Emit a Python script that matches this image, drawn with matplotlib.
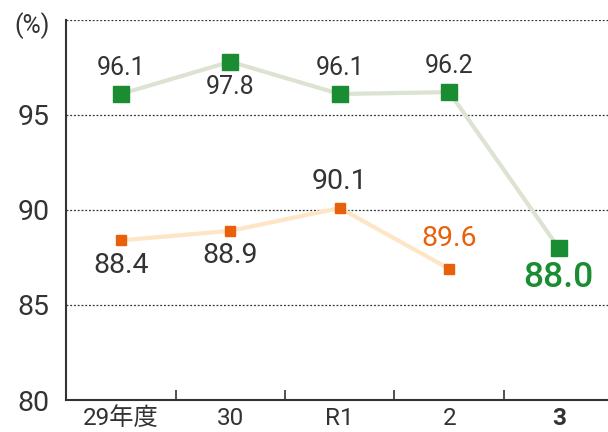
import numpy as np
import matplotlib.pyplot as plt

plt.rcParams['font.family'] = ['Roboto', 'Noto Sans CJK JP', 'DejaVu Sans']

years = ['29年度', '30', 'R1', '2', '3']
green_vals = [96.1, 97.8, 96.1, 96.2, 88.0]
orange_vals = [88.4, 88.9, 90.1, 86.9]
orange_labels = ['88.4', '88.9', '90.1', '89.6']

green = '#1a8c32'
green_line = '#dde3d2'
orange = '#e8600a'
orange_line = '#fde5c6'
dark = '#333333'

fig = plt.figure(figsize=(6.08, 4.32), dpi=100)
ax = fig.add_axes([0.1086, 0.074, 0.8914, 0.88])

x = np.arange(len(years))
ax.plot(x, green_vals, color=green_line, lw=3, zorder=2)
ax.plot(x, green_vals, 's', color=green, ms=11.5, zorder=3)
xo = np.arange(len(orange_vals))
ax.plot(xo, orange_vals, color=orange_line, lw=3, zorder=2)
ax.plot(xo, orange_vals, 's', color=orange, ms=7.5, zorder=3)

# value labels
g_off = [19, -18, 19, 19, -21]
for i, v in enumerate(green_vals):
    last = i == len(green_vals) - 1
    ax.annotate(f'{v:.1f}', (i, v), xytext=(0, g_off[i]), textcoords='offset points',
                ha='center', va='center',
                fontsize=25.5 if last else 18,
                color=green if last else dark,
                fontweight='medium' if last else 'normal')
o_off = [-18, -18, 19, 22]
for i, v in enumerate(orange_vals):
    ax.annotate(orange_labels[i], (i, v), xytext=(0, o_off[i]), textcoords='offset points',
                ha='center', va='center', fontsize=20.5,
                color=orange if i == 3 else dark)

ax.set_ylim(80, 100)
ax.set_xlim(-0.5, 4.45)
ax.set_yticks([80, 85, 90, 95])
for yv in [85, 90, 95, 100]:
    ax.axhline(yv, color=dark, lw=0.9, ls=(0, (1.5, 1.5)), zorder=1)

ax.set_xticks(x)
ax.set_xticklabels(years)
ax.set_xticks(np.arange(0.5, 4.0, 1.0), minor=True)
ax.tick_params(axis='x', which='major', length=0, pad=5, labelsize=17.5, colors=dark)
ax.tick_params(axis='x', which='minor', length=7, direction='in', width=1.2, color=dark)
ax.tick_params(axis='y', length=0, pad=12, labelsize=20.5, colors=dark)
ax.get_xticklabels()[-1].set_fontweight('bold')

for s in ['top', 'right']:
    ax.spines[s].set_visible(False)
for s in ['left', 'bottom']:
    ax.spines[s].set_color(dark)
    ax.spines[s].set_linewidth(1.5)

fig.text(0.053, 0.94, '(%)', fontsize=18, color=dark, ha='center', va='center')

fig.savefig('out.png', dpi=100)
